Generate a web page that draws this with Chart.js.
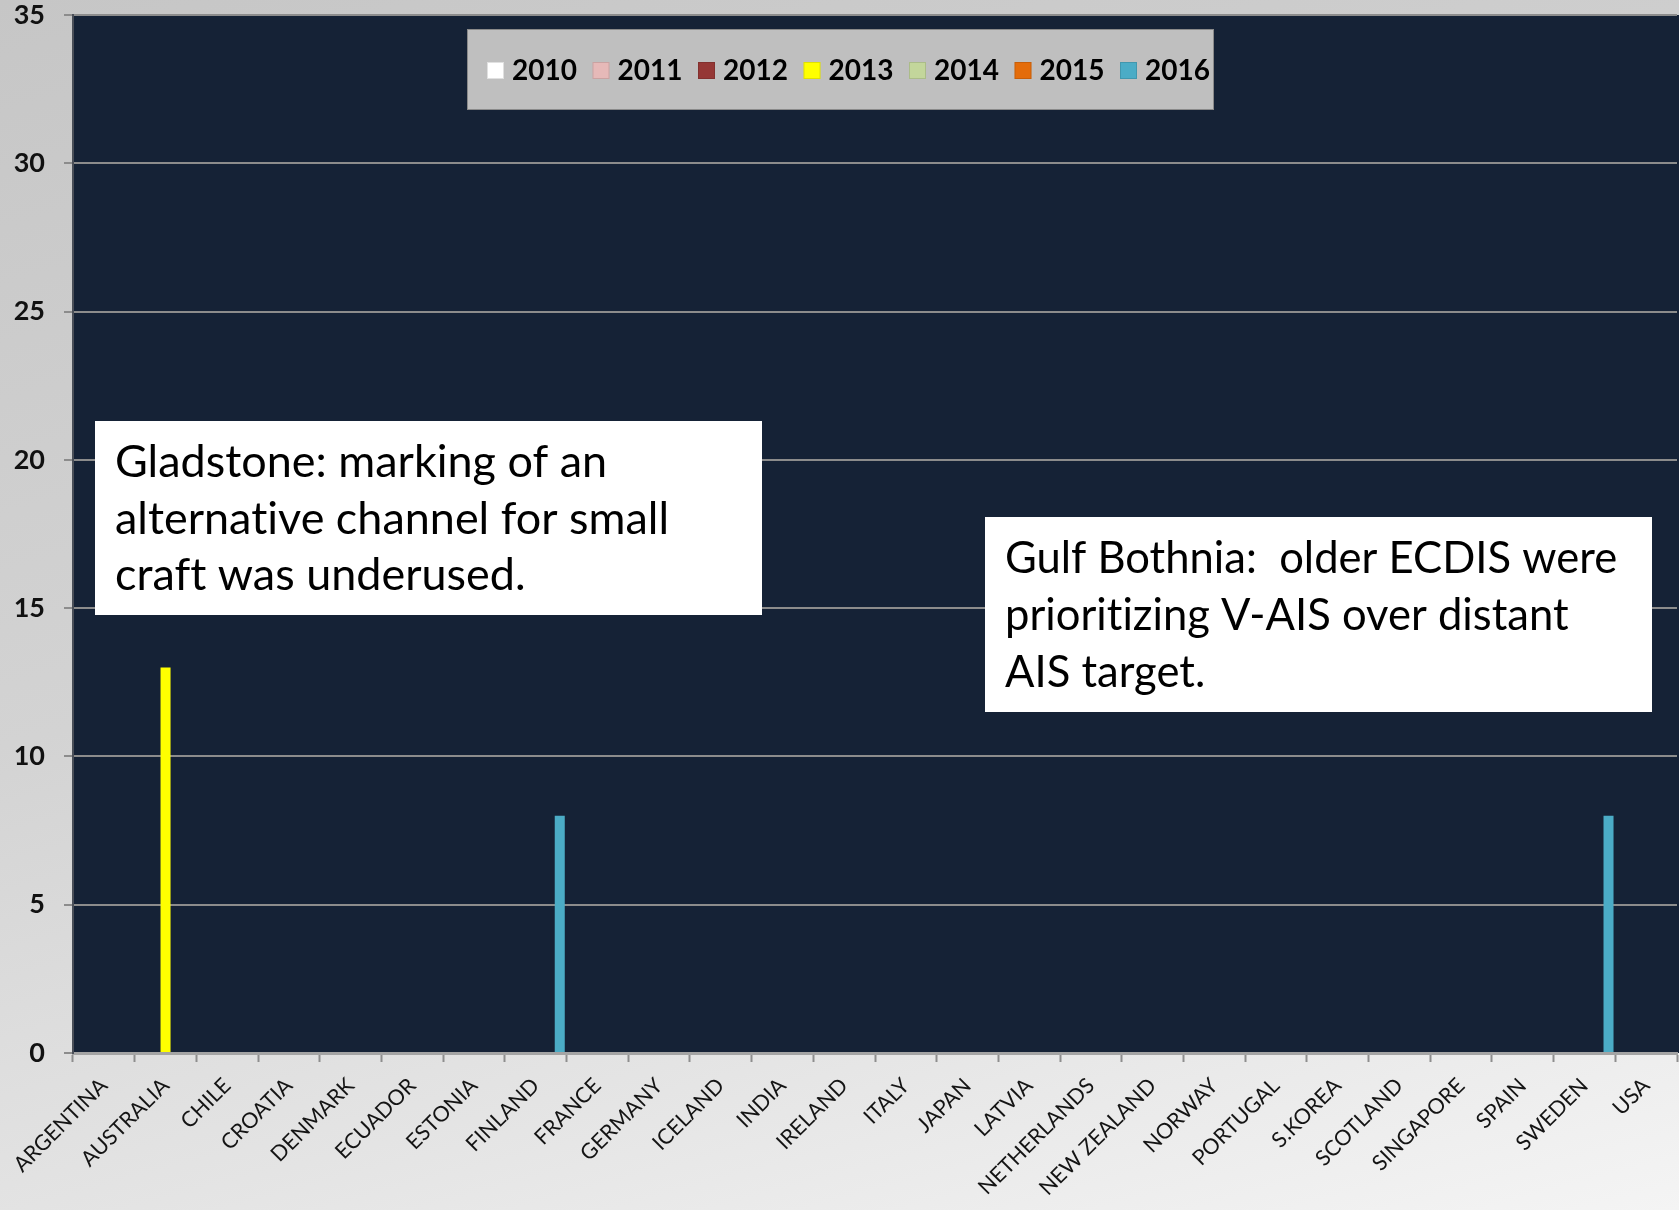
<!DOCTYPE html>
<html>
<head>
<meta charset="utf-8">
<script src="https://cdn.jsdelivr.net/npm/chart.js@4.4.1/dist/chart.umd.min.js"></script>
<style>
  html, body { margin: 0; padding: 0; }
  body {
    width: 1679px; height: 1210px; overflow: hidden;
    background: linear-gradient(165deg, #c6c6c6 0%, #d3d3d3 45%, #e4e4e4 75%, #f4f4f4 100%);
  }
  #wrap { position: relative; width: 1679px; height: 1210px; }
  canvas { display: block; }
</style>
</head>
<body>
<div id="wrap"><canvas id="chart" width="1679" height="1210"></canvas></div>
<script>
// Countries on the category axis
const countries = [
  'ARGENTINA', 'AUSTRALIA', 'CHILE', 'CROATIA', 'DENMARK', 'ECUADOR', 'ESTONIA',
  'FINLAND', 'FRANCE', 'GERMANY', 'ICELAND', 'INDIA', 'IRELAND', 'ITALY', 'JAPAN',
  'LATVIA', 'NETHERLANDS', 'NEW ZEALAND', 'NORWAY', 'PORTUGAL', 'S.KOREA',
  'SCOTLAND', 'SINGAPORE', 'SPAIN', 'SWEDEN', 'USA'
];

// Series names
const years = ['2010', '2011', '2012', '2013', '2014', '2015', '2016'];

// Values per year, one entry per country (same order as countries)
const v2010 = [0,0,0,0,0,0,0,0,0,0,0,0,0,0,0,0,0,0,0,0,0,0,0,0,0,0];
const v2011 = [0,0,0,0,0,0,0,0,0,0,0,0,0,0,0,0,0,0,0,0,0,0,0,0,0,0];
const v2012 = [0,0,0,0,0,0,0,0,0,0,0,0,0,0,0,0,0,0,0,0,0,0,0,0,0,0];
const v2013 = [0,13,0,0,0,0,0,0,0,0,0,0,0,0,0,0,0,0,0,0,0,0,0,0,0,0];
const v2014 = [0,0,0,0,0,0,0,0,0,0,0,0,0,0,0,0,0,0,0,0,0,0,0,0,0,0];
const v2015 = [0,0,0,0,0,0,0,0,0,0,0,0,0,0,0,0,0,0,0,0,0,0,0,0,0,0];
const v2016 = [0,0,0,0,0,0,0,8,0,0,0,0,0,0,0,0,0,0,0,0,0,0,0,0,8,0];

// Value axis
const yTicks = [0, 5, 10, 15, 20, 25, 30, 35];

// Notes shown over the plot
const noteGladstone = ['Gladstone: marking of an', 'alternative channel for small', 'craft was underused.'];
const noteBothnia = ['Gulf Bothnia:  older ECDIS were', 'prioritizing V-AIS over distant', 'AIS target.'];

// Series colours
const palette = ['#ffffff', '#e6b9b8', '#953735', '#ffff00', '#c3d69b', '#e46c0a', '#4bacc6'];
const seriesValues = [v2010, v2011, v2012, v2013, v2014, v2015, v2016];

const FONT = 'Lato, "Open Sans", sans-serif';

// Dark plot backdrop, reaching to the right edge of the canvas
const plotBackground = {
  id: 'plotBackground',
  beforeDraw(chart) {
    const { ctx, chartArea: a } = chart;
    ctx.save();
    ctx.fillStyle = '#152236';
    ctx.fillRect(a.left, a.top, chart.width - a.left, a.bottom - a.top);
    ctx.restore();
  }
};

// Grey legend panel inside the plot
const legendPanel = {
  id: 'legendPanel',
  afterDraw(chart) {
    const { ctx } = chart;
    const x0 = 467, y0 = 29, w = 747, h = 81;
    ctx.save();
    ctx.fillStyle = '#bfbfbf';
    ctx.fillRect(x0, y0, w, h);
    ctx.strokeStyle = '#8a8a8a';
    ctx.lineWidth = 1;
    ctx.strokeRect(x0 + 0.5, y0 + 0.5, w - 1, h - 1);
    ctx.font = 'bold 28px ' + FONT;
    ctx.textBaseline = 'middle';
    let x = 487;
    const cy = 70;
    chart.data.datasets.forEach((ds) => {
      ctx.fillStyle = ds.backgroundColor;
      ctx.fillRect(x, cy - 8, 17, 17);
      ctx.strokeStyle = 'rgba(0,0,0,0.12)';
      ctx.strokeRect(x + 0.5, cy - 7.5, 16, 16);
      ctx.fillStyle = '#000000';
      ctx.fillText(ds.label, x + 25, cy + 1);
      x += 105.5;
    });
    ctx.restore();
  }
};

// White note boxes
function drawNote(ctx, lines, box, textX, baselines, widest) {
  ctx.fillStyle = '#ffffff';
  ctx.fillRect(box.x, box.y, box.w, box.h);
  if ('letterSpacing' in ctx) ctx.letterSpacing = '0.01px';
  ctx.font = '100px ' + FONT;
  const m = Math.max(...lines.map(l => ctx.measureText(l).width));
  const size = 100 * widest / m;
  ctx.font = size.toFixed(2) + 'px ' + FONT;
  ctx.fillStyle = '#000000';
  ctx.textBaseline = 'alphabetic';
  ctx.textAlign = 'left';
  lines.forEach((l, i) => ctx.fillText(l, textX, baselines[i]));
}

const notes = {
  id: 'notes',
  afterDatasetsDraw(chart) {
    const { ctx } = chart;
    ctx.save();
    drawNote(ctx, noteGladstone, { x: 95, y: 421, w: 667, h: 194 }, 115, [477, 534, 590], 554);
    drawNote(ctx, noteBothnia, { x: 985, y: 517, w: 667, h: 195 }, 1005, [573, 630, 687], 612);
    ctx.restore();
  }
};

function build() {
  const ctx = document.getElementById('chart').getContext('2d');
  new Chart(ctx, {
    type: 'bar',
    data: {
      labels: countries,
      datasets: years.map((y, i) => ({
        label: y,
        data: seriesValues[i],
        backgroundColor: palette[i],
        borderWidth: 0,
        barPercentage: 1.25,
        categoryPercentage: 0.91
      }))
    },
    options: {
      responsive: false,
      animation: false,
      events: [],
      layout: { padding: { top: 15, right: 2, left: 0, bottom: 0 } },
      plugins: {
        legend: { display: false },
        tooltip: { enabled: false }
      },
      scales: {
        x: {
          grid: {
            display: true,
            drawOnChartArea: false,
            drawTicks: true,
            tickLength: 9,
            tickWidth: 2,
            tickColor: '#8e8e8e',
            offset: true
          },
          border: { display: true, color: '#a4a4a4', width: 3 },
          ticks: {
            autoSkip: false,
            maxRotation: 45,
            minRotation: 45,
            padding: 11,
            color: '#141414',
            font: { family: FONT, size: 21.5 }
          },
          afterFit(scale) { scale.height = 157; }
        },
        y: {
          min: 0,
          max: 35,
          afterBuildTicks(scale) { scale.ticks = yTicks.map(v => ({ value: v })); },
          grid: {
            color: '#8c8c8c',
            lineWidth: 2,
            tickLength: 9,
            tickColor: '#8c8c8c',
            drawTicks: true
          },
          border: { display: true, color: '#4a4f58', width: 2 },
          ticks: {
            padding: 19,
            color: '#111111',
            font: { family: FONT, size: 27, weight: 'bold' }
          },
          afterFit(scale) {
            scale.width = 73;
            scale.paddingTop = 0;
            scale.paddingBottom = 0;
          }
        }
      }
    },
    plugins: [plotBackground, notes, legendPanel]
  });
}

Promise.all([
  document.fonts.load('21.5px Lato'),
  document.fonts.load('bold 28px Lato'),
  document.fonts.load('40px Lato')
]).catch(() => {}).then(build);
</script>
</body>
</html>
